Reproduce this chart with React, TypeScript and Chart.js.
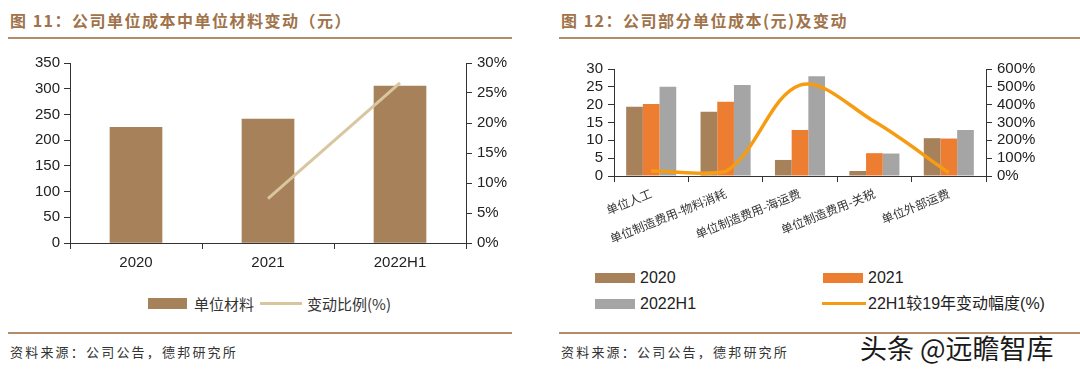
import React, { useEffect, useRef } from 'react';
import { Chart, registerables } from 'chart.js';

Chart.register(...registerables);

// ---- Figure 11 data ----
const years = ['2020', '2021', '2022H1'];
const unitMaterial = [225, 241, 305];
const materialChangePct = [null, 7.4, 26.7];
const leftAxisMax = 350;
const leftAxisStep = 50;
const leftPctMax = 30;
const leftPctStep = 5;

// ---- Figure 12 data ----
const costItems = ['单位人工', '单位制造费用-物料消耗', '单位制造费用-海运费', '单位制造费用-关税', '单位外部运费'];
const cost2020 = [19.4, 18.0, 4.5, 1.4, 10.6];
const cost2021 = [20.2, 20.8, 12.9, 6.4, 10.5];
const cost2022H1 = [25.0, 25.5, 28.0, 6.3, 12.9];
const change22H1vs19 = [28, 25, 510, 305, 18];
const rightAxisMax = 30;
const rightAxisStep = 5;
const rightPctMax = 600;
const rightPctStep = 100;

const BROWN = '#a6815a';
const ORANGE = '#ed7d31';
const GREY = '#a5a5a5';
const TAN = '#d8c6a0';
const LINE_ORANGE = '#f59c12';
const TITLE = '#a0734b';
const RULE = '#b48c68';
const AXIS = '#333333';
const LATIN = "'Liberation Sans', Arial, 'Noto Sans CJK SC', sans-serif";
const CJK = "'Noto Sans CJK SC', sans-serif";

function axisCommon(width: number | null, height: number | null) {
  return {
    afterFit: (s: any) => {
      if (width !== null) s.width = width;
      if (height !== null) s.height = height;
    },
    grid: { drawOnChartArea: false, drawTicks: true, tickLength: 6, color: AXIS, lineWidth: 1 },
    border: { display: true, color: AXIS, width: 1 },
  };
}

function LeftChart() {
  const ref = useRef<HTMLCanvasElement>(null);
  useEffect(() => {
    const chart = new Chart(ref.current!, {
      type: 'bar',
      data: {
        labels: years,
        datasets: [
          {
            type: 'line',
            label: '变动比例(%)',
            data: materialChangePct as any,
            yAxisID: 'y1',
            borderColor: TAN,
            borderWidth: 3,
            pointRadius: 0,
            tension: 0,
          } as any,
          {
            type: 'bar',
            label: '单位材料',
            data: unitMaterial,
            yAxisID: 'y',
            backgroundColor: BROWN,
            barThickness: 52,
          },
        ],
      },
      options: {
        animation: false,
        responsive: false,
        devicePixelRatio: 1,
        layout: { padding: { top: 13, left: 0, right: 0, bottom: 0 } },
        plugins: { legend: { display: false }, tooltip: { enabled: false } },
        scales: {
          x: {
            ...axisCommon(null, 37),
            grid: { ...axisCommon(null, 37).grid, offset: true },
            ticks: { color: '#222', font: { family: LATIN, size: 15 }, padding: 5 },
          },
          y: {
            ...axisCommon(70, null),
            position: 'left',
            min: 0,
            max: leftAxisMax,
            ticks: { stepSize: leftAxisStep, autoSkip: false, color: '#222', font: { family: LATIN, size: 15, lineHeight: 1 }, padding: 4 },
          },
          y1: {
            ...axisCommon(64, null),
            position: 'right',
            min: 0,
            max: leftPctMax,
            ticks: {
              stepSize: leftPctStep,
              autoSkip: false,
              color: '#222',
              font: { family: LATIN, size: 15, lineHeight: 1 },
              padding: 5,
              callback: (v: any) => `${v}%`,
            },
          },
        } as any,
      },
    });
    return () => chart.destroy();
  }, []);
  return (
    <canvas
      ref={ref}
      width={530}
      height={230}
      style={{ position: 'absolute', left: 0, top: 50, width: 530, height: 230 }}
    />
  );
}

function RightChart() {
  const ref = useRef<HTMLCanvasElement>(null);
  useEffect(() => {
    const chart = new Chart(ref.current!, {
      type: 'bar',
      data: {
        labels: costItems,
        datasets: [
          {
            type: 'line',
            label: '22H1较19年变动幅度(%)',
            data: change22H1vs19,
            yAxisID: 'y1',
            borderColor: LINE_ORANGE,
            borderWidth: 3.5,
            pointRadius: 0,
            tension: 0.35,
          } as any,
          { type: 'bar', label: '2020', data: cost2020, yAxisID: 'y', backgroundColor: BROWN, categoryPercentage: 0.673, barPercentage: 1 },
          { type: 'bar', label: '2021', data: cost2021, yAxisID: 'y', backgroundColor: ORANGE, categoryPercentage: 0.673, barPercentage: 1 },
          { type: 'bar', label: '2022H1', data: cost2022H1, yAxisID: 'y', backgroundColor: GREY, categoryPercentage: 0.673, barPercentage: 1 },
        ],
      },
      options: {
        animation: false,
        responsive: false,
        devicePixelRatio: 1,
        layout: { padding: { top: 19, left: 0, right: 0, bottom: 0 } },
        plugins: { legend: { display: false }, tooltip: { enabled: false } },
        scales: {
          x: {
            ...axisCommon(null, 74),
            grid: { ...axisCommon(null, 74).grid, offset: true },
            ticks: {
              color: '#333',
              font: { family: CJK, size: 12 },
              padding: 4,
              minRotation: 22,
              maxRotation: 22,
              autoSkip: false,
            },
          },
          y: {
            ...axisCommon(69, null),
            position: 'left',
            min: 0,
            max: rightAxisMax,
            ticks: { stepSize: rightAxisStep, autoSkip: false, color: '#222', font: { family: LATIN, size: 15, lineHeight: 1 }, padding: 5 },
          },
          y1: {
            ...axisCommon(94, null),
            position: 'right',
            min: 0,
            max: rightPctMax,
            ticks: {
              stepSize: rightPctStep,
              autoSkip: false,
              color: '#222',
              font: { family: LATIN, size: 15, lineHeight: 1 },
              padding: 5,
              callback: (v: any) => `${v}%`,
            },
          },
        } as any,
      },
    });
    return () => chart.destroy();
  }, []);
  return (
    <canvas
      ref={ref}
      width={535}
      height={200}
      style={{ position: 'absolute', left: 545, top: 50, width: 535, height: 200 }}
    />
  );
}

const abs = (s: React.CSSProperties): React.CSSProperties => ({ position: 'absolute', whiteSpace: 'nowrap', margin: 0, ...s });

function Swatch({ left, top, w, h, color }: { left: number; top: number; w: number; h: number; color: string }) {
  return <div style={abs({ left, top, width: w, height: h, background: color })} />;
}

function Label({ left, cy, text, size = 15, family = CJK, color = '#333', spacing = 0 }: any) {
  const lh = size + 6;
  return (
    <div style={abs({ left, top: cy - lh / 2, lineHeight: `${lh}px`, fontSize: size, fontFamily: family, color, letterSpacing: spacing })}>{text}</div>
  );
}

export default function App() {
  return (
    <div style={{ position: 'fixed', left: 0, top: 0, width: 1080, height: 374, background: '#fff', overflow: 'hidden' }}>
      {/* Left panel */}
      <div style={abs({ left: 10, top: 10, lineHeight: '20px', fontSize: 16, fontWeight: 700, fontFamily: "'Noto Sans CJK SC', 'Liberation Sans', sans-serif", color: TITLE, letterSpacing: 1.5 })}>
        图 11：公司单位成本中单位材料变动（元）
      </div>
      <div style={abs({ left: 8, top: 37, width: 504, height: 2, background: RULE })} />
      <LeftChart />
      <Swatch left={148} top={298} w={39} h={11} color={BROWN} />
      <Label left={194} cy={303.5} text="单位材料" size={15} />
      <Swatch left={260} top={302} w={42} h={3} color={TAN} />
      <Label left={307} cy={303.5} text="变动比例(%)" size={15} family={"'Noto Sans CJK SC', 'Liberation Sans', sans-serif"} />
      <div style={abs({ left: 8, top: 332, width: 504, height: 2, background: RULE })} />
      <Label left={10} cy={351.5} text="资料来源：公司公告，德邦研究所" size={13} color="#333" spacing={2.2} />

      {/* Right panel */}
      <div style={abs({ left: 561, top: 10, lineHeight: '20px', fontSize: 16, fontWeight: 700, fontFamily: "'Noto Sans CJK SC', 'Liberation Sans', sans-serif", color: TITLE, letterSpacing: 1.5 })}>
        图 12：公司部分单位成本(元)及变动
      </div>
      <div style={abs({ left: 559, top: 37, width: 521, height: 2, background: RULE })} />
      <RightChart />
      <Swatch left={595} top={273} w={40} h={10} color={BROWN} />
      <Label left={640} cy={277.5} text="2020" size={16} family={LATIN} color="#222" />
      <Swatch left={823} top={273} w={40} h={10} color={ORANGE} />
      <Label left={868} cy={277.5} text="2021" size={16} family={LATIN} color="#222" />
      <Swatch left={595} top={299} w={40} h={10} color={GREY} />
      <Label left={640} cy={304} text="2022H1" size={16} family={LATIN} color="#222" />
      <Swatch left={822} top={302} w={44} h={3} color={LINE_ORANGE} />
      <Label left={868} cy={304} text="22H1较19年变动幅度(%)" size={16} family={LATIN} color="#222" />
      <div style={abs({ left: 559, top: 332, width: 521, height: 2, background: RULE })} />
      <Label left={561} cy={351.5} text="资料来源：公司公告，德邦研究所" size={13} color="#333" spacing={2.2} />
      <div style={abs({ left: 860, top: 332, lineHeight: '31px', fontSize: 27, fontFamily: CJK, color: '#1a1a1a' })}>头条 @远瞻智库</div>
    </div>
  );
}
